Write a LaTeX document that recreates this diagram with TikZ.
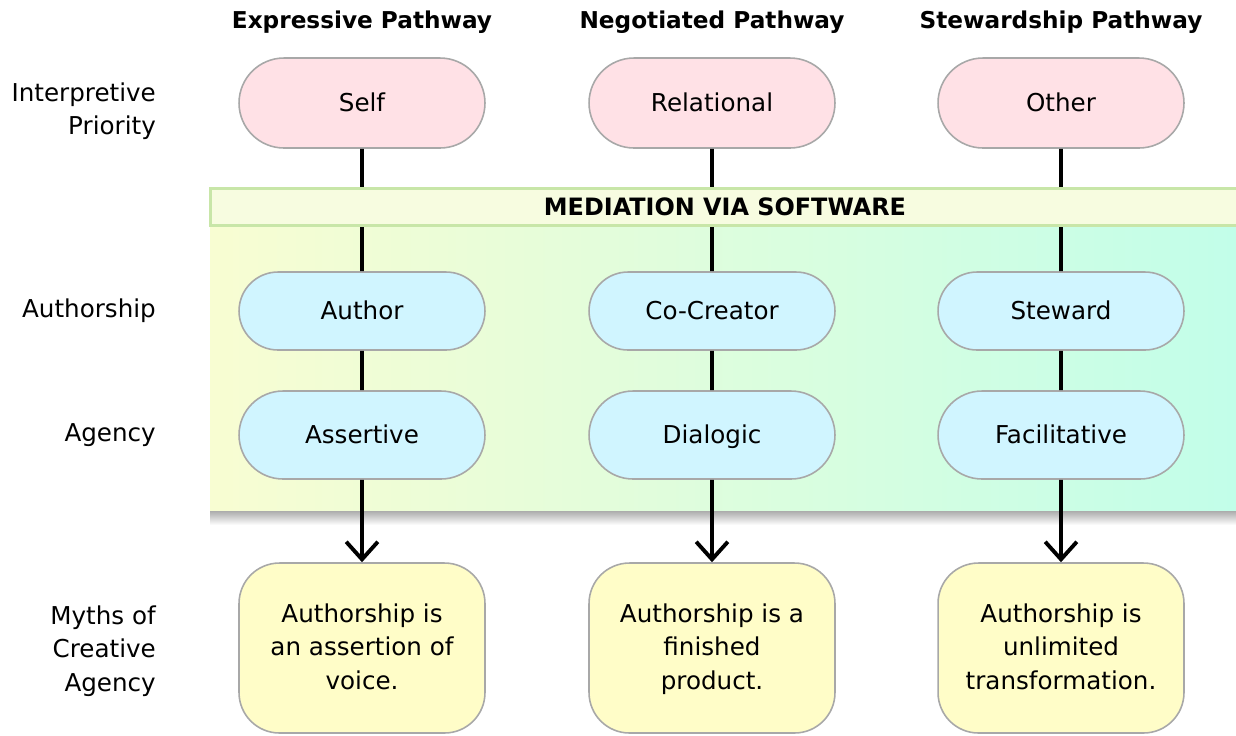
\documentclass[tikz,border=0pt]{standalone}
\usepackage{fontspec}
\setmainfont{DejaVu Sans}
\usetikzlibrary{arrows.meta,shapes.misc}

\definecolor{pinkfill}{HTML}{FFE1E6}
\definecolor{cyanfill}{HTML}{D0F5FF}
\definecolor{mythfill}{HTML}{FFFDC8}
\definecolor{edgegray}{HTML}{A8A8A8}
\definecolor{hdrfill}{HTML}{F7FCE0}
\definecolor{hdredge}{HTML}{C8E6A8}
\definecolor{bandleft}{HTML}{F8FDD2}
\definecolor{bandmid}{HTML}{E4FDD9}
\definecolor{bandright}{HTML}{C2FEE9}

\tikzset{
  txt/.style={font=\fontsize{14}{19}\selectfont},
  pill/.style={txt,rounded rectangle,draw=edgegray,line width=0.9pt,
    minimum width=4.92cm,inner sep=0pt,text height=2ex,text depth=.25ex},
  prio/.style={pill,fill=pinkfill,minimum height=1.8cm},
  auth/.style={pill,fill=cyanfill,minimum height=1.56cm},
  agen/.style={pill,fill=cyanfill,minimum height=1.76cm},
  myth/.style={txt,rectangle,rounded corners=23pt,draw=edgegray,line width=0.9pt,
    fill=mythfill,minimum width=4.92cm,minimum height=3.4cm,align=center,
    text depth=.3ex},
  rowlbl/.style={txt,anchor=east,align=right},
  colhead/.style={font=\fontsize{13.2}{19}\selectfont\bfseries},
  link/.style={line width=2.2pt},
  flow/.style={link,-{Straight Barb[length=10pt,width=18pt,line width=2.2pt]}}
}

\begin{document}
\begin{tikzpicture}[x=0.02cm,y=-0.02cm]

\useasboundingbox (0,0) rectangle (1236,735) ;

% mediation band
\shade[top color=black!35,bottom color=white] (210,510) rectangle (1236,525) ;
\shade[left color=bandleft,middle color=bandmid,right color=bandright] (210,226) rectangle (1236,510) ;

% column heads
\node[colhead] (hexp) at (362,22) {Expressive Pathway} ;
\node[colhead] (hneg) at (712,22) {Negotiated Pathway} ;
\node[colhead] (hste) at (1061,22) {Stewardship Pathway} ;

% row labels
\node[rowlbl] (lprio) at (162,111) {Interpretive\\Priority} ;
\node[rowlbl] (lauth) at (162,311) {Authorship} ;
\node[rowlbl] (lagen) at (162,435) {Agency} ;
\node[rowlbl] (lmyth) at (162,651) {Myths of\\Creative\\Agency} ;

% expressive
\node[prio] (self) at (362,103) {Self} ;
\node[auth] (author) at (362,311) {Author} ;
\node[agen] (assert) at (362,435) {Assertive} ;
\node[myth] (voice) at (362,648) {Authorship is\\an assertion of\\voice.} ;

% negotiated
\node[prio] (relat) at (712,103) {Relational} ;
\node[auth] (cocre) at (712,311) {Co-Creator} ;
\node[agen] (dialog) at (712,435) {Dialogic} ;
\node[myth] (product) at (712,648) {Authorship is a\\finished\\product.} ;

% stewardship
\node[prio] (other) at (1061,103) {Other} ;
\node[auth] (steward) at (1061,311) {Steward} ;
\node[agen] (facil) at (1061,435) {Facilitative} ;
\node[myth] (transf) at (1061,648) {Authorship is\\unlimited\\transformation.} ;

\draw[link] (self) -- (author) ;
\draw[link] (author) -- (assert) ;
\draw[flow] (assert) -- (voice) ;

\draw[link] (relat) -- (cocre) ;
\draw[link] (cocre) -- (dialog) ;
\draw[flow] (dialog) -- (product) ;

\draw[link] (other) -- (steward) ;
\draw[link] (steward) -- (facil) ;
\draw[flow] (facil) -- (transf) ;

% header strip over the lines
\node[font=\fontsize{13.6}{19}\selectfont\bfseries,draw=hdredge,line width=1.6pt,
  fill=hdrfill,minimum width=20.6cm,minimum height=0.74cm,inner sep=0pt]
  (medhdr) at (725,207) {MEDIATION VIA SOFTWARE} ;

\end{tikzpicture}
\end{document}
